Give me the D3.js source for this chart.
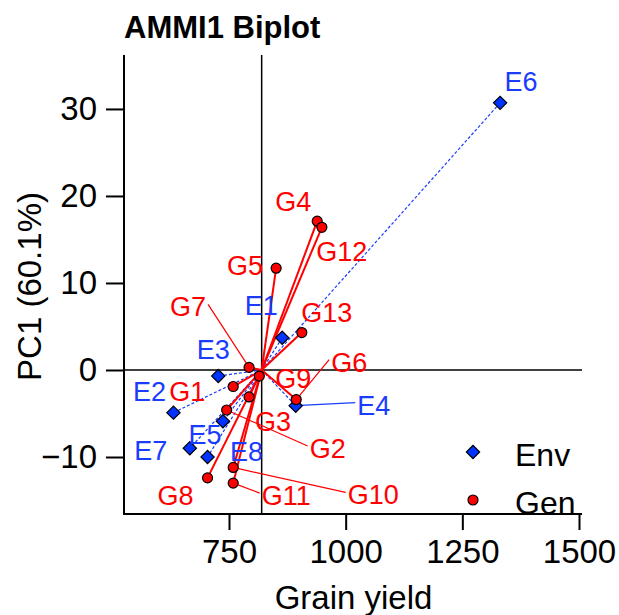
<!DOCTYPE html>
<html>
<head>
<meta charset="utf-8">
<script src="https://cdn.jsdelivr.net/npm/d3@7"></script>
<style>
  html, body { margin: 0; padding: 0; background: #fff; }
  svg { display: block; font-family: "Liberation Sans", Arial, sans-serif; }
</style>
</head>
<body>
<svg id="chart" width="619" height="615"></svg>
<script>
// ---- data ----
const envNames  = ["E1", "E2", "E3", "E4", "E5", "E6", "E7", "E8"];
const envYield  = [864, 631, 727, 893, 737, 1331, 666, 704];
const envPC1    = [3.7, -4.9, -0.7, -4.1, -5.9, 30.7, -9.0, -10.0];

const genNames  = ["G1", "G2", "G3", "G4", "G5", "G6", "G7", "G8", "G9", "G10", "G11", "G12", "G13"];
const genYield  = [759, 745, 793, 939, 851, 894, 793, 704, 815, 759, 759, 949, 906];
const genPC1    = [-1.9, -4.6, -3.1, 17.1, 11.7, -3.4, 0.3, -12.4, -0.7, -11.2, -13.0, 16.4, 4.3];

const grandMean = 820;
const xTicks = [750, 1000, 1250, 1500];
const yTicks = [-10, 0, 10, 20, 30];

// ---- layout (label offsets in px from point; third flag = draw leader segment) ----
const envLabelOffset = {
  E1: [-21, -32], E2: [-24, -21], E3: [-5, -26], E4: [78, 0, true],
  E5: [-18, 14], E6: [21, -21], E7: [-39, 3], E8: [39, -5]
};
const genLabelOffset = {
  G1: [-46, 5], G2: [101, 39, true], G3: [24, 25], G4: [-24, -19], G5: [-31, -2],
  G6: [53, -37, true], G7: [-61, -60, true], G8: [-32, 18], G9: [34, 3],
  G10: [140, 28, true], G11: [53, 13, true], G12: [20, 25], G13: [25, -20]
};

const svg = d3.select("#chart");
const pL = 124, pR = 579, pT = 55, pB = 514;

const x = d3.scaleLinear().domain([525, 1500]).range([pL, pR]);
const y = d3.scaleLinear().domain([-16.55, 36.2]).range([pB, pT]);

const envColor = "#1a3cff", genColor = "#ff0000";
const labelSize = 27;

const env = envNames.map((n, i) => ({name: n, x: envYield[i], y: envPC1[i]}));
const gen = genNames.map((n, i) => ({name: n, x: genYield[i], y: genPC1[i]}));

// title
svg.append("text").attr("x", 124).attr("y", 38)
  .attr("font-size", 31).attr("font-weight", "bold").attr("fill", "#000")
  .text("AMMI1 Biplot");

// reference lines
svg.append("line").attr("x1", x(grandMean)).attr("x2", x(grandMean))
  .attr("y1", pT).attr("y2", pB).attr("stroke", "#000").attr("stroke-width", 1.5);
svg.append("line").attr("x1", pL).attr("x2", pR + 3)
  .attr("y1", y(0)).attr("y2", y(0)).attr("stroke", "#000").attr("stroke-width", 1.5);

// rays from centre
const cx = x(grandMean), cy = y(0);
svg.append("g").selectAll("line").data(env).join("line")
  .attr("x1", cx).attr("y1", cy).attr("x2", d => x(d.x)).attr("y2", d => y(d.y))
  .attr("stroke", envColor).attr("stroke-width", 1.2).attr("stroke-dasharray", "3,2");
svg.append("g").selectAll("line").data(gen).join("line")
  .attr("x1", cx).attr("y1", cy).attr("x2", d => x(d.x)).attr("y2", d => y(d.y))
  .attr("stroke", genColor).attr("stroke-width", 2);

// label helpers
const meas = svg.append("text").attr("font-size", labelSize).attr("visibility", "hidden");
function tw(t) { meas.text(t); return meas.node().getComputedTextLength(); }

function leaders(data, offsets, color) {
  const ld = data.filter(d => offsets[d.name][2]);
  svg.append("g").selectAll("line").data(ld).join("line")
    .attr("x1", d => x(d.x)).attr("y1", d => y(d.y))
    .attr("x2", d => {
      const o = offsets[d.name], w = tw(d.name) / 2 + 2;
      return x(d.x) + o[0] + (o[0] > 0 ? -w : w);
    })
    .attr("y2", d => y(d.y) + offsets[d.name][1] - 3)
    .attr("stroke", color).attr("stroke-width", 1.2);
}
leaders(env, envLabelOffset, envColor);
leaders(gen, genLabelOffset, genColor);

// points
const diamond = d3.symbol().type(d3.symbolSquare).size(88);
svg.append("g").selectAll("path").data(env).join("path")
  .attr("d", diamond)
  .attr("transform", d => `translate(${x(d.x)},${y(d.y)}) rotate(45)`)
  .attr("fill", "#0033ff").attr("stroke", "#000").attr("stroke-width", 1.2);
svg.append("g").selectAll("circle").data(gen).join("circle")
  .attr("cx", d => x(d.x)).attr("cy", d => y(d.y)).attr("r", 5)
  .attr("fill", "#ff0000").attr("stroke", "#000").attr("stroke-width", 1.2);

// labels
function labels(data, offsets, color) {
  svg.append("g").selectAll("text").data(data).join("text")
    .attr("x", d => x(d.x) + offsets[d.name][0])
    .attr("y", d => y(d.y) + offsets[d.name][1])
    .attr("text-anchor", "middle").attr("dominant-baseline", "central")
    .attr("font-size", labelSize).attr("fill", color)
    .text(d => d.name);
}
labels(env, envLabelOffset, envColor);
labels(gen, genLabelOffset, genColor);

// legend (Gen text sits under the axis line)
const lg = svg.append("g");
lg.append("path").attr("d", diamond).attr("transform", "translate(473,452) rotate(45)")
  .attr("fill", "#0033ff").attr("stroke", "#000").attr("stroke-width", 1.2);
lg.append("text").attr("x", 515).attr("y", 466).attr("font-size", 32).attr("fill", "#000").text("Env");
lg.append("circle").attr("cx", 473).attr("cy", 500).attr("r", 5)
  .attr("fill", "#ff0000").attr("stroke", "#000").attr("stroke-width", 1.2);
lg.append("text").attr("x", 515).attr("y", 514).attr("font-size", 32).attr("fill", "#000").text("Gen");

// axes lines
svg.append("line").attr("x1", pL).attr("x2", pL).attr("y1", pT).attr("y2", pB)
  .attr("stroke", "#000").attr("stroke-width", 2);
svg.append("line").attr("x1", pL - 1).attr("x2", pR + 3).attr("y1", pB).attr("y2", pB)
  .attr("stroke", "#000").attr("stroke-width", 2);

// ticks
const xa = svg.append("g").attr("transform", `translate(0,${pB})`)
  .call(d3.axisBottom(x).tickValues(xTicks).tickSize(16).tickPadding(10).tickFormat(d3.format("d")));
xa.select(".domain").remove();
xa.selectAll("line").attr("stroke-width", 2);
xa.selectAll("text").attr("font-size", 33).attr("font-family", "Liberation Sans, Arial, sans-serif").attr("fill", "#000");

const ya = svg.append("g").attr("transform", `translate(${pL},0)`)
  .call(d3.axisLeft(y).tickValues(yTicks).tickSize(18).tickPadding(9).tickFormat(d3.format("d")));
ya.select(".domain").remove();
ya.selectAll("line").attr("stroke-width", 2);
ya.selectAll("text").attr("font-size", 33).attr("font-family", "Liberation Sans, Arial, sans-serif").attr("fill", "#000");

// axis titles
svg.append("text").attr("x", (pL + pR) / 2 + 2).attr("y", 609)
  .attr("text-anchor", "middle").attr("font-size", 33).attr("fill", "#000")
  .text("Grain yield");
svg.append("text").attr("transform", `translate(41,${(pT + pB) / 2 + 2}) rotate(-90)`)
  .attr("text-anchor", "middle").attr("font-size", 33).attr("fill", "#000")
  .text("PC1 (60.1%)");
</script>
</body>
</html>
